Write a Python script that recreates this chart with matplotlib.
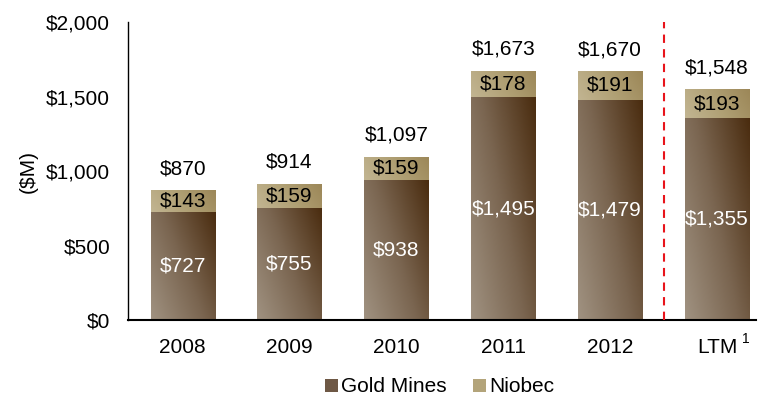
import numpy as np
import matplotlib
matplotlib.use("Agg")
import matplotlib.pyplot as plt
from matplotlib.colors import LinearSegmentedColormap
from matplotlib.patches import Patch

plt.rcParams['font.family'] = ['Liberation Sans', 'DejaVu Sans']

# данные
years = ['2008', '2009', '2010', '2011', '2012', 'LTM']
gold_mines = [727, 755, 938, 1495, 1479, 1355]
niobec = [143, 159, 159, 178, 191, 193]
totals = [870, 914, 1097, 1673, 1670, 1548]

gold_cmap = LinearSegmentedColormap.from_list('gold', ['#a09281', '#7a6550', '#4a2c0f'])
nio_cmap = LinearSegmentedColormap.from_list('nio', ['#c2b592', '#b0a074', '#9c8758'])

fs = 15
fig = plt.figure(figsize=(7.58, 4.01), dpi=100)
ax = fig.add_axes([0.169, 0.202, 0.829, 0.743])

x = np.arange(len(years))
w = 0.6

# градиент внутри столбика
u, v = np.meshgrid(np.linspace(0, 1, 60), np.linspace(0, 1, 200))
grad_gold = 0.6 * u + 0.4 * v
grad_nio = 0.8 * u + 0.2 * v


def grad_bar(xc, bottom, height, cmap, grad):
    bars = ax.bar(xc, height, w, bottom=bottom, color='none', edgecolor='none', zorder=2)
    patch = bars[0]
    im = ax.imshow(grad, cmap=cmap, origin='lower', aspect='auto', zorder=2,
                   extent=[xc - w / 2, xc + w / 2, bottom, bottom + height], vmin=0, vmax=1)
    im.set_clip_path(patch)


for i in range(len(years)):
    grad_bar(x[i], 0, gold_mines[i], gold_cmap, grad_gold)
    grad_bar(x[i], gold_mines[i], niobec[i], nio_cmap, grad_nio)
    ax.text(x[i], gold_mines[i] / 2, '$' + format(gold_mines[i], ','), ha='center', va='center',
            color='white', fontsize=fs, zorder=4)
    ax.text(x[i], gold_mines[i] + niobec[i] / 2, '$' + format(niobec[i], ','), ha='center', va='center',
            color='black', fontsize=fs, zorder=4)
    ax.text(x[i], totals[i] + 145, '$' + format(totals[i], ','), ha='center', va='center',
            color='black', fontsize=fs, zorder=4)

ax.axvline(4.5, color='#e8141b', linestyle=(0, (4, 3)), linewidth=1.5, zorder=3)

ax.set_xlim(-0.51, 5.37)
ax.set_ylim(0, 2000)
ax.set_xticks(x)
ax.set_xticklabels(years, fontsize=fs)
ax.text(5.27, -130, '1', fontsize=10, ha='center', va='center')
ax.set_yticks([0, 500, 1000, 1500, 2000])
ax.set_yticklabels(['$0', '$500', '$1,000', '$1,500', '$2,000'], fontsize=fs)
ax.tick_params(axis='both', length=0)
ax.tick_params(axis='y', pad=13)
ax.tick_params(axis='x', pad=13)
ax.set_ylabel('($M)', fontsize=fs)
ax.yaxis.set_label_coords(-0.143, 0.5)
for s in ['top', 'right']:
    ax.spines[s].set_visible(False)
ax.spines['bottom'].set_linewidth(1.5)
ax.spines['left'].set_linewidth(1.0)

handles = [Patch(facecolor='#6e5845', label='Gold Mines'), Patch(facecolor='#b3a47a', label='Niobec')]
fig.legend(handles=handles, loc='center', bbox_to_anchor=(0.58, 0.035), ncol=2, frameon=False,
           fontsize=fs, handlelength=0.6, handleheight=0.6, handletextpad=0.15, columnspacing=1.3)

fig.savefig('out.png', dpi=100)
